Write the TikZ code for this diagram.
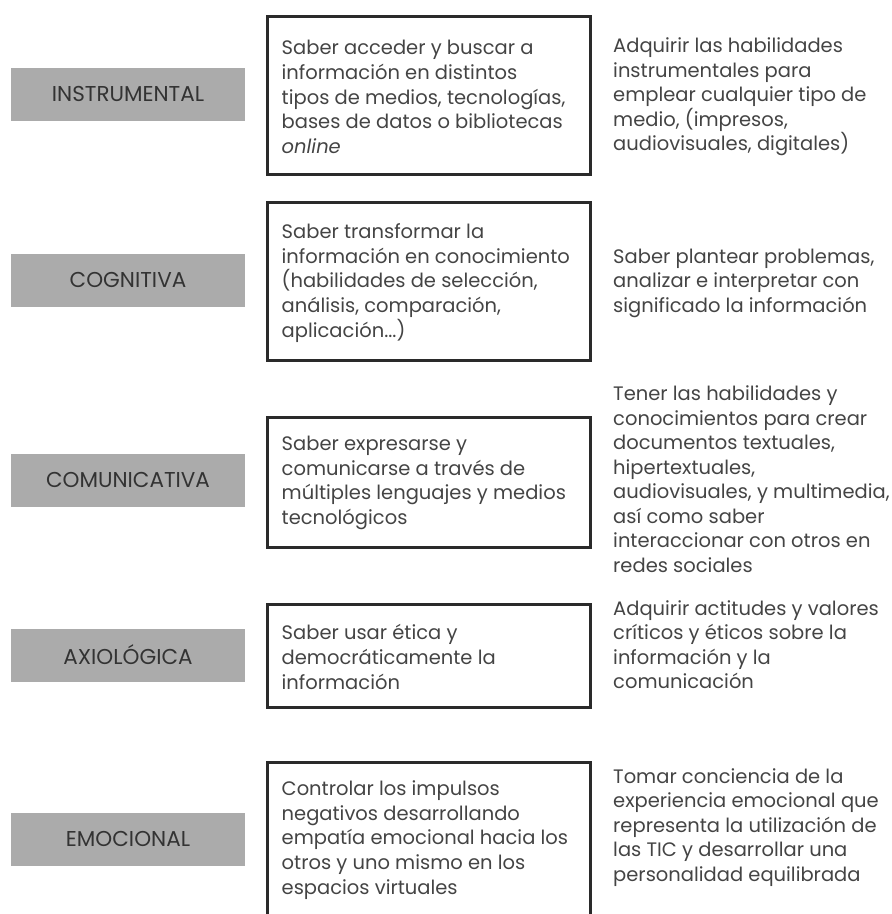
\documentclass[tikz,border=0pt]{standalone}
\usepackage{fontspec}
\setmainfont{Poppins}
\definecolor{catgray}{HTML}{ABABAB}
\definecolor{cattext}{HTML}{333333}
\definecolor{bodytext}{HTML}{444444}
\definecolor{boxline}{HTML}{2A2A2A}
\tikzset{
  catbox/.style={fill=catgray, minimum width=234pt, minimum height=53pt, inner sep=0pt,
    text=cattext, font=\fontsize{21.5}{24}\selectfont},
  descbox/.style={draw=boxline, line width=3pt, minimum width=323pt, inner sep=0pt},
  desctext/.style={anchor=west, align=left, inner sep=0pt, text=bodytext,
    font=\fontsize{19.5}{24.8}\selectfont},
  righttext/.style={anchor=west, align=left, inner sep=0pt, text=bodytext,
    font=\fontsize{19.5}{24.5}\selectfont}
}
\begin{document}
\begin{tikzpicture}[x=1pt,y=-1pt]
\useasboundingbox (0,0) rectangle (892,914);
% row 1
\node[catbox] (c1) at (128,94) {INSTRUMENTAL};
\node[descbox, minimum height=158pt] (b1) at (428.5,95) {};
\node[desctext] (t1) at ([xshift=16pt]b1.west |- 0,97) {Saber acceder y buscar a\\información en distintos\\tipos de medios, tecnologías,\\bases de datos o bibliotecas\\\textit{online}};
\node[righttext] (r1) at (613,97) {Adquirir las habilidades\\instrumentales para\\emplear cualquier tipo de\\medio, (impresos,\\audiovisuales, digitales)};
% row 2
\node[catbox] (c2) at (128,280) {COGNITIVA};
\node[descbox, minimum height=158pt] (b2) at (428.5,281) {};
\node[desctext] (t2) at ([xshift=16pt]b2.west |- 0,283) {Saber transformar la\\información en conocimiento\\(habilidades de selección,\\análisis, comparación,\\aplicación...)};
\node[righttext] (r2) at (613,283) {Saber plantear problemas,\\analizar e interpretar con\\significado la información};
% row 3
\node[catbox] (c3) at (128,480) {COMUNICATIVA};
\node[descbox, minimum height=130pt] (b3) at (428.5,482) {};
\node[desctext] (t3) at ([xshift=16pt]b3.west |- 0,483) {Saber expresarse y\\comunicarse a través de\\múltiples lenguajes y medios\\tecnológicos};
\node[righttext] (r3) at (613,479) {Tener las habilidades y\\conocimientos para crear\\documentos textuales,\\hipertextuales,\\audiovisuales, y multimedia,\\así como saber\\interaccionar con otros en\\redes sociales};
% row 4
\node[catbox] (c4) at (128,655) {AXIOLÓGICA};
\node[descbox, minimum height=103pt] (b4) at (428.5,655.5) {};
\node[desctext] (t4) at ([xshift=16pt]b4.west |- 0,657) {Saber usar ética y\\democráticamente la\\información};
\node[righttext] (r4) at (613,644.5) {Adquirir actitudes y valores\\críticos y éticos sobre la\\información y la\\comunicación};
% row 5
\node[catbox] (c5) at (128,839) {EMOCIONAL};
\node[descbox, minimum height=153pt] (b5) at (428.5,838.5) {};
\node[desctext] (t5) at ([xshift=16pt]b5.west |- 0,840) {Controlar los impulsos\\negativos desarrollando\\empatía emocional hacia los\\otros y uno mismo en los\\espacios virtuales};
\node[righttext] (r5) at (613,827.5) {Tomar conciencia de la\\experiencia emocional que\\representa la utilización de\\las TIC y desarrollar una\\personalidad equilibrada};
\end{tikzpicture}
\end{document}
